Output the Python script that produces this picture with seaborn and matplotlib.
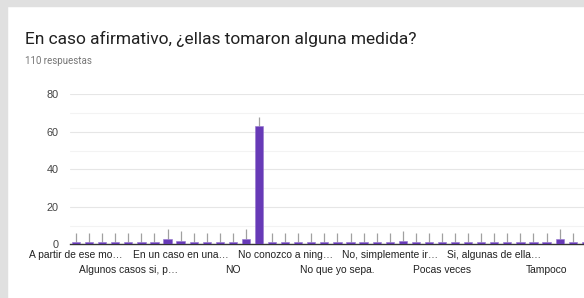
import numpy as np
import matplotlib
matplotlib.use("Agg")
import matplotlib.pyplot as plt
import matplotlib.patches as patches
import seaborn as sns

# Respuestas ordenadas alfabeticamente (solo se conocen las etiquetas que se ven)
conteos = [1, 1, 1, 1, 1, 1, 1, 3, 2, 1,
           1, 1, 1, 3, 63, 1, 1, 1, 1, 1,
           1, 1, 1, 1, 1, 2, 1, 1, 1, 1,
           1, 1, 1, 1, 1, 1, 1, 3, 1, 1]
# fila superior de etiquetas
pos_fila1 = [0, 8, 16, 24, 32]
etiq_fila1 = ["A partir de ese mo…", "En un caso en una…", "No conozco a ning…",
              "No, simplemente ir…", "Si, algunas de ella…"]
# fila inferior de etiquetas
pos_fila2 = [4, 12, 20, 28, 36]
etiq_fila2 = ["Algunos casos si, p…", "NO", "No que yo sepa.", "Pocas veces", "Tampoco"]
y_ticks = [0, 20, 40, 60, 80]

titulo = "En caso afirmativo, ¿ellas tomaron alguna medida?"
subtitulo = "110 respuestas"

sns.set_theme(style="white")
plt.rcParams['font.family'] = ['Liberation Sans', 'DejaVu Sans']

fig = plt.figure(figsize=(5.84, 2.98), dpi=100)
fig.patch.set_facecolor("white")

# Bordes grises de la tarjeta
fig.patches.append(patches.Rectangle((0, 0), 7 / 584, 1, transform=fig.transFigure,
                                     color="#e0e0e0", zorder=0))
fig.patches.append(patches.Rectangle((0, 1 - 6 / 298), 1, 6 / 298, transform=fig.transFigure,
                                     color="#e0e0e0", zorder=0))

fig.text(25 / 584, 1 - 31 / 298, titulo, fontsize=12.5, family=['Roboto', 'DejaVu Sans'],
         color="#212121", va="top", ha="left")
fig.text(25 / 584, 1 - 56 / 298, subtitulo, fontsize=7, family=['Roboto', 'DejaVu Sans'],
         color="#757575", va="top", ha="left")

ax = fig.add_axes([69.5 / 584, (298 - 244.3) / 298, 522.8 / 584, 150 / 298])
ax.set_facecolor("white")

x = np.arange(len(conteos))
valores = np.array(conteos)

# Lineas grises sobre cada barra
ax.vlines(x, valores, valores + 5, color="#a0a0a0", lw=0.9, zorder=1)

sns.barplot(x=x, y=valores, color="#673ab7", width=0.63, saturation=1,
            edgecolor="#9575cd", linewidth=0.4, ax=ax, zorder=3)

ax.set_xlim(-0.5, len(conteos) - 0.5)
ax.set_ylim(0, 80)
ax.set_yticks(y_ticks)
ax.set_yticklabels([str(v) for v in y_ticks], fontsize=7.8, color="#444444")
ax.set_yticks([10, 30, 50, 70], minor=True)
ax.grid(axis="y", which="major", color="#e6e6e6", lw=0.8, zorder=0)
ax.grid(axis="y", which="minor", color="#f3f3f3", lw=0.8, zorder=0)
ax.set_axisbelow(True)

ax.set_xticks(pos_fila1)
ax.set_xticklabels(etiq_fila1, fontsize=7.4, color="#222222")
ax.set_xticks(pos_fila2, minor=True)
ax.set_xticklabels(etiq_fila2, minor=True, fontsize=7.4, color="#222222")
ax.tick_params(axis="both", which="both", length=0)
ax.tick_params(axis="x", which="major", pad=4)
ax.tick_params(axis="x", which="minor", pad=15)
ax.tick_params(axis="y", pad=8)

for lado in ["top", "right", "left"]:
    ax.spines[lado].set_visible(False)
ax.spines["bottom"].set_color("#333333")
ax.spines["bottom"].set_linewidth(1)
ax.set_xlabel("")
ax.set_ylabel("")

fig.savefig("out.png", dpi=100)
